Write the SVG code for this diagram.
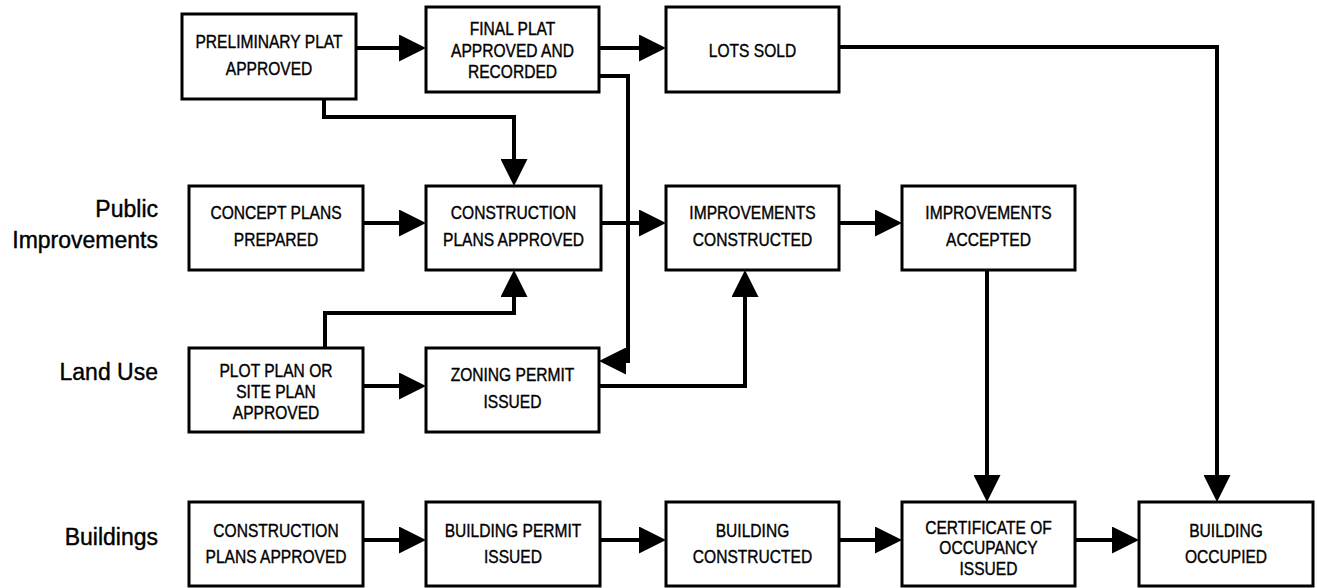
<svg xmlns="http://www.w3.org/2000/svg" width="1317" height="588" viewBox="0 0 1317 588">
<style>
.box{fill:#fff;stroke:#000;stroke-width:3}
.t{font-family:"Liberation Sans",Arial,sans-serif;font-size:19px;text-anchor:middle;fill:#000;stroke:#000;stroke-width:0.4}
.lab{font-family:"Liberation Sans",Arial,sans-serif;font-size:23px;text-anchor:end;fill:#000;stroke:#000;stroke-width:0.4}
.c{fill:none;stroke:#000;stroke-width:4;stroke-linejoin:miter;marker-end:url(#ah)}
</style>
<defs>
<marker id="ah" markerUnits="userSpaceOnUse" markerWidth="27" markerHeight="27" refX="21" refY="13.5" orient="auto">
<path d="M0,0 L27,13.5 L0,27 Z" fill="#000"/>
</marker>
</defs>
<rect width="1317" height="588" fill="#fff"/>
<g id="labels">
<text class="lab" x="158" y="217">Public</text>
<text class="lab" x="158" y="248">Improvements</text>
<text class="lab" x="158" y="380">Land Use</text>
<text class="lab" x="158" y="545">Buildings</text>
</g>
<g id="connectors">
<path class="c" d="M356 48 H420"/>
<path class="c" d="M599 48 H660"/>
<path class="c" d="M839 47 H1217 V496"/>
<path class="c" d="M324 99 V117 H514 V180"/>
<path class="c" d="M599 76 H628 V361 H605"/>
<path class="c" d="M363 223 H420"/>
<path class="c" d="M601 223 H660"/>
<path class="c" d="M839 223 H896"/>
<path class="c" d="M987 270 V496"/>
<path class="c" d="M325 348 V313 H514 V276"/>
<path class="c" d="M363 386 H420"/>
<path class="c" d="M599 386 H745 V276"/>
<path class="c" d="M363 540 H420"/>
<path class="c" d="M600 540 H660"/>
<path class="c" d="M839 540 H896"/>
<path class="c" d="M1075 540 H1133"/>
</g>
<g id="n-prelim"><rect class="box" x="182" y="14" width="174" height="85"/><text class="t" transform="translate(269 48) scale(0.82 1)">PRELIMINARY PLAT</text><text class="t" transform="translate(269 75) scale(0.82 1)">APPROVED</text></g>
<g id="n-final"><rect class="box" x="426" y="7" width="173" height="85"/><text class="t" transform="translate(512.5 35) scale(0.82 1)">FINAL PLAT</text><text class="t" transform="translate(512.5 57) scale(0.82 1)">APPROVED AND</text><text class="t" transform="translate(512.5 78) scale(0.82 1)">RECORDED</text></g>
<g id="n-lots"><rect class="box" x="666" y="7" width="173" height="85"/><text class="t" transform="translate(752.5 57) scale(0.82 1)">LOTS SOLD</text></g>
<g id="n-concept"><rect class="box" x="189" y="186" width="174" height="84"/><text class="t" transform="translate(276 219) scale(0.82 1)">CONCEPT PLANS</text><text class="t" transform="translate(276 246) scale(0.82 1)">PREPARED</text></g>
<g id="n-constr"><rect class="box" x="426" y="186" width="175" height="84"/><text class="t" transform="translate(513.5 219) scale(0.82 1)">CONSTRUCTION</text><text class="t" transform="translate(513.5 246) scale(0.82 1)">PLANS APPROVED</text></g>
<g id="n-impc"><rect class="box" x="666" y="186" width="173" height="84"/><text class="t" transform="translate(752.5 219) scale(0.82 1)">IMPROVEMENTS</text><text class="t" transform="translate(752.5 246) scale(0.82 1)">CONSTRUCTED</text></g>
<g id="n-impa"><rect class="box" x="902" y="186" width="173" height="84"/><text class="t" transform="translate(988.5 219) scale(0.82 1)">IMPROVEMENTS</text><text class="t" transform="translate(988.5 246) scale(0.82 1)">ACCEPTED</text></g>
<g id="n-plot"><rect class="box" x="189" y="348" width="174" height="84"/><text class="t" transform="translate(276 377) scale(0.82 1)">PLOT PLAN OR</text><text class="t" transform="translate(276 398) scale(0.82 1)">SITE PLAN</text><text class="t" transform="translate(276 419) scale(0.82 1)">APPROVED</text></g>
<g id="n-zoning"><rect class="box" x="426" y="348" width="173" height="84"/><text class="t" transform="translate(512.5 381) scale(0.82 1)">ZONING PERMIT</text><text class="t" transform="translate(512.5 408) scale(0.82 1)">ISSUED</text></g>
<g id="n-bcpa"><rect class="box" x="189" y="502" width="174" height="84"/><text class="t" transform="translate(276 537) scale(0.82 1)">CONSTRUCTION</text><text class="t" transform="translate(276 563) scale(0.82 1)">PLANS APPROVED</text></g>
<g id="n-bp"><rect class="box" x="426" y="502" width="174" height="84"/><text class="t" transform="translate(513 537) scale(0.82 1)">BUILDING PERMIT</text><text class="t" transform="translate(513 563) scale(0.82 1)">ISSUED</text></g>
<g id="n-bc"><rect class="box" x="666" y="502" width="173" height="84"/><text class="t" transform="translate(752.5 537) scale(0.82 1)">BUILDING</text><text class="t" transform="translate(752.5 563) scale(0.82 1)">CONSTRUCTED</text></g>
<g id="n-cert"><rect class="box" x="902" y="502" width="173" height="84"/><text class="t" transform="translate(988.5 534) scale(0.82 1)">CERTIFICATE OF</text><text class="t" transform="translate(988.5 554) scale(0.82 1)">OCCUPANCY</text><text class="t" transform="translate(988.5 575) scale(0.82 1)">ISSUED</text></g>
<g id="n-occ"><rect class="box" x="1139" y="502" width="174" height="84"/><text class="t" transform="translate(1226 537) scale(0.82 1)">BUILDING</text><text class="t" transform="translate(1226 563) scale(0.82 1)">OCCUPIED</text></g>
</svg>
